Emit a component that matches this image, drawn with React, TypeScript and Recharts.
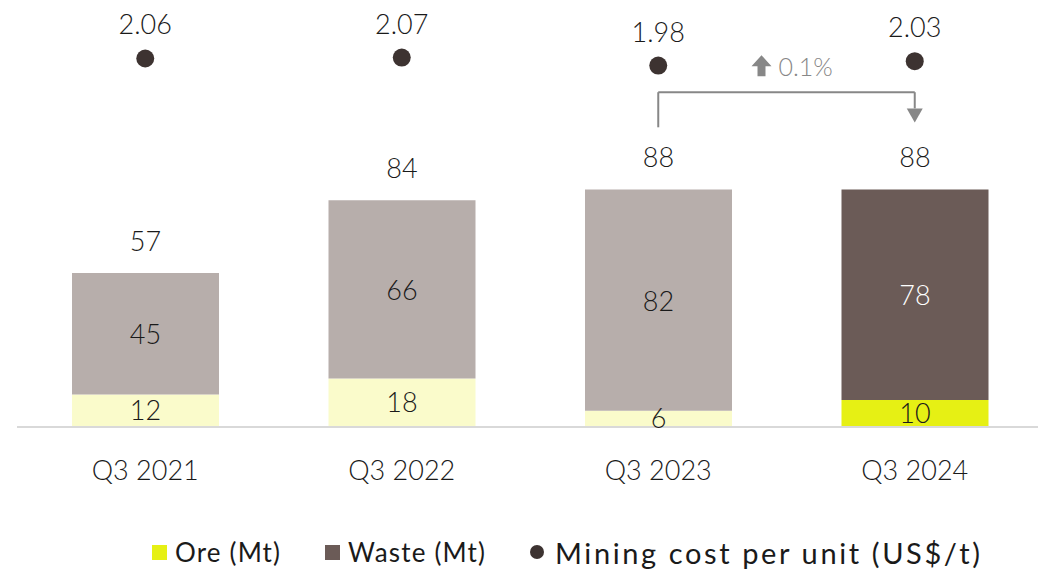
import React from "react"
import {
  ComposedChart,
  Bar,
  Line,
  XAxis,
  YAxis,
  Cell,
  LabelList,
  Legend,
  ReferenceLine,
} from "recharts"

const quarters = ["Q3 2021", "Q3 2022", "Q3 2023", "Q3 2024"]
const ore = [12, 18, 6, 10]
const waste = [45, 66, 82, 78]
const totals = [57, 84, 88, 88]
const miningCost = [2.06, 2.07, 1.98, 2.03]

const ORE_COLORS = ["#fafbcb", "#fafbcb", "#fafbcb", "#e6f014"]
const WASTE_COLORS = ["#b7aeab", "#b7aeab", "#b7aeab", "#6b5b57"]
const DOT = "#3d3331"
const GREY = "#878787"
const INK = "#1a1a1a"
const FONT = "Lato, 'Noto Sans', sans-serif"

const data = quarters.map((q, i) => ({
  quarter: q,
  ore: ore[i],
  waste: waste[i],
  total: totals[i],
  cost: miningCost[i],
}))

const textProps = { fontSize: 27, fontFamily: FONT, fontWeight: 300, fill: INK }

const wasteLabel = (props: any) => {
  const { x, y, width, height, value, index } = props
  return (
    <text
      x={x + width / 2}
      y={y + height / 2}
      textAnchor="middle"
      dominantBaseline="central"
      {...textProps}
      fill={index === 3 ? "#ffffff" : INK}
    >
      {value}
    </text>
  )
}

const changeLabel = (props: any) => {
  const { viewBox } = props
  const cx = viewBox.x + viewBox.width / 2
  const y = viewBox.y - 26
  const ax = cx - 25
  return (
    <g>
      <path
        d={`M${ax} ${y - 11} L${ax + 10} ${y} L${ax + 4} ${y} L${ax + 4} ${y + 10} L${ax - 4} ${y + 10} L${ax - 4} ${y} L${ax - 10} ${y} Z`}
        fill={GREY}
      />
      <text
        x={cx - 8}
        y={y}
        dominantBaseline="central"
        fontSize={25}
        fontFamily={FONT}
        fontWeight={300}
        fill={GREY}
      >
        0.1%
      </text>
    </g>
  )
}

const arrowDown = (props: any) => {
  const { x1, y1, x2, y2 } = props
  return (
    <g>
      <line x1={x1} y1={y1} x2={x2} y2={y2} stroke={GREY} strokeWidth={2} />
      <path d={`M${x2 - 8} ${y2} L${x2 + 8} ${y2} L${x2} ${y2 + 14} Z`} fill={GREY} />
    </g>
  )
}

// legend items: marker, label, label start x, label width
const legendItems = [
  { label: "Ore (Mt)", color: "#e6f014", round: false, mx: 152, tx: 175, tw: 105, fs: 26 },
  { label: "Waste (Mt)", color: "#6b5b57", round: false, mx: 325, tx: 348, tw: 137, fs: 26 },
  { label: "Mining cost per unit (US$/t)", color: DOT, round: true, mx: 530, tx: 555, tw: 425, fs: 29 },
]

const renderLegend = () => (
  <svg width={1038} height={50} style={{ display: "block" }}>
    {legendItems.map((it) => (
      <g key={it.label}>
        {it.round ? (
          <circle cx={it.mx + 7} cy={26} r={7} fill={it.color} />
        ) : (
          <rect x={it.mx} y={19} width={15} height={15} fill={it.color} />
        )}
        <text
          x={it.tx}
          y={26}
          dominantBaseline="central"
          fontSize={it.fs}
          fontFamily={FONT}
          fill={INK}
          textLength={it.tw}
          lengthAdjust="spacing"
        >
          {it.label}
        </text>
      </g>
    ))}
  </svg>
)

export default function App() {
  return (
    <div style={{ position: "absolute", left: 0, top: 0, width: 1038, height: 576, overflow: "hidden", background: "#fff" }}>
      <ComposedChart
        width={1050}
        height={576}
        data={data}
        margin={{ top: 22, right: 7, left: 17, bottom: 39 }}
        barSize={147}
      >
        <XAxis
          dataKey="quarter"
          axisLine={{ stroke: "#d9d9d9", strokeWidth: 2 }}
          tickLine={false}
          height={60}
          tick={{ ...textProps, dy: 26 }}
        />
        <YAxis yAxisId="left" hide domain={[0, 150]} />
        <YAxis yAxisId="right" orientation="right" hide domain={[-2.08, 2.47]} />
        <Legend verticalAlign="bottom" content={renderLegend} wrapperStyle={{ bottom: 0, left: 0, width: 1038 }} />
        <Bar yAxisId="left" dataKey="ore" stackId="a" isAnimationActive={false}>
          {data.map((_, i) => (
            <Cell key={`ore-${i}`} fill={ORE_COLORS[i]} />
          ))}
          <LabelList dataKey="ore" position="center" {...textProps} />
        </Bar>
        <Bar yAxisId="left" dataKey="waste" stackId="a" isAnimationActive={false}>
          {data.map((_, i) => (
            <Cell key={`waste-${i}`} fill={WASTE_COLORS[i]} />
          ))}
          <LabelList dataKey="waste" content={wasteLabel} />
          <LabelList dataKey="total" position="top" offset={22} {...textProps} />
        </Bar>
        <Line
          yAxisId="right"
          dataKey="cost"
          stroke="none"
          isAnimationActive={false}
          dot={{ r: 9, fill: DOT, stroke: "none" }}
          activeDot={false}
        >
          <LabelList dataKey="cost" position="top" offset={24} {...textProps} />
        </Line>
        <ReferenceLine
          yAxisId="left"
          segment={[{ x: "Q3 2023", y: 111 }, { x: "Q3 2023", y: 124 }]}
          stroke={GREY}
          strokeWidth={2}
        />
        <ReferenceLine
          yAxisId="left"
          segment={[{ x: "Q3 2023", y: 124 }, { x: "Q3 2024", y: 124 }]}
          stroke={GREY}
          strokeWidth={2}
          label={changeLabel}
        />
        <ReferenceLine
          yAxisId="left"
          segment={[{ x: "Q3 2024", y: 124 }, { x: "Q3 2024", y: 118 }]}
          stroke={GREY}
          strokeWidth={2}
          shape={arrowDown}
        />
      </ComposedChart>
    </div>
  )
}
